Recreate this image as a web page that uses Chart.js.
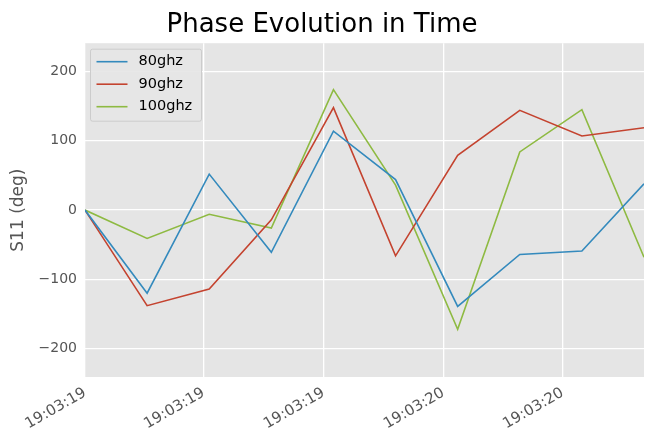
<!DOCTYPE html>
<html lang="en">
<head>
  <meta charset="UTF-8">
  <title>Phase Evolution in Time</title>
  <script src="https://cdn.jsdelivr.net/npm/chart.js"></script>
  <style>
    body {
      margin: 0;
      background: #fff;
    }
    .chart-box {
      width: 657px;
      height: 442px;
    }
  </style>
</head>
<body>
  <div class="chart-box"><canvas id="phaseChart"></canvas></div>

  <script>
    // sample index along the time axis
    const samples = [0, 1, 2, 3, 4, 5, 6, 7, 8, 9];
    const phase80 = [0, -120, 52, -61, 114, 44, -139, -64, -59, 38];
    const phase90 = [0, -138, -114, -14, 148, -66, 79, 144, 107, 119];
    const phase100 = [0, -41, -6, -26, 174, 36, -172, 84, 145, -68];

    const xTickPositions = [0, 1.91, 3.84, 5.77, 7.69];
    const xTickLabels = ['19:03:19', '19:03:19', '19:03:19', '19:03:20', '19:03:20'];
    const yTicks = [-200, -100, 0, 100, 200];

    const seriesNames = ['80ghz', '90ghz', '100ghz'];
    const seriesColors = ['#348ABD', '#C4432F', '#8EBA42'];
    const seriesValues = [phase80, phase90, phase100];

    const FONT = "'DejaVu Sans', sans-serif";

    // matplotlib-like legend drawn inside the axes, top left
    const insideLegend = {
      id: 'insideLegend',
      afterDatasetsDraw(chart) {
        const ctx = chart.ctx;
        const area = chart.chartArea;
        const x0 = area.left + 5.5, y0 = area.top + 6;
        ctx.save();
        ctx.fillStyle = 'rgba(229,229,229,0.9)';
        ctx.strokeStyle = '#cccccc';
        ctx.lineWidth = 1;
        ctx.beginPath();
        ctx.roundRect(x0, y0, 111, 72, 2);
        ctx.fill();
        ctx.stroke();
        ctx.font = '14.5px ' + FONT;
        ctx.textBaseline = 'middle';
        ctx.fillStyle = '#000';
        chart.data.datasets.forEach((ds, i) => {
          const y = y0 + 12.5 + i * 22.5;
          ctx.strokeStyle = ds.borderColor;
          ctx.lineWidth = 1.6;
          ctx.beginPath();
          ctx.moveTo(x0 + 6, y);
          ctx.lineTo(x0 + 37, y);
          ctx.stroke();
          ctx.fillText(ds.label, x0 + 48, y);
        });
        ctx.restore();
      }
    };

    const phaseChart = new Chart(document.getElementById('phaseChart').getContext('2d'), {
      type: 'line',
      data: {
        datasets: seriesNames.map((name, i) => ({
          label: name,
          data: samples.map((s, j) => ({ x: s, y: seriesValues[i][j] })),
          borderColor: seriesColors[i],
          backgroundColor: seriesColors[i],
          borderWidth: 1.6,
          pointRadius: 0,
          tension: 0
        }))
      },
      options: {
        responsive: true,
        maintainAspectRatio: false,
        animation: false,
        layout: { padding: { left: 0, right: 13, top: 0, bottom: 0 } },
        plugins: {
          legend: { display: false },
          tooltip: { enabled: false },
          title: {
            display: true,
            text: 'Phase Evolution in Time',
            color: '#000',
            font: { family: FONT, size: 26, weight: 'normal' },
            padding: { top: 10, bottom: 2 }
          }
        },
        scales: {
          x: {
            type: 'linear',
            min: 0,
            max: 9,
            afterBuildTicks: scale => {
              scale.ticks = xTickPositions.map(v => ({ value: v }));
            },
            afterFit: scale => { scale.height = 65; },
            ticks: {
              color: '#555555',
              font: { family: FONT, size: 15 },
              minRotation: 30,
              maxRotation: 30,
              padding: 7,
              callback: (v, idx) => xTickLabels[idx]
            },
            grid: { color: '#ffffff', lineWidth: 1.3, drawTicks: false },
            border: { display: false }
          },
          y: {
            min: -241,
            max: 241,
            afterBuildTicks: scale => {
              scale.ticks = yTicks.map(v => ({ value: v }));
            },
            afterFit: scale => { scale.width = 85; },
            ticks: {
              color: '#555555',
              font: { family: FONT, size: 14 },
              padding: 8,
              callback: v => (v < 0 ? '\u2212' + Math.abs(v) : String(v))
            },
            title: {
              display: true,
              text: 'S11 (deg)',
              color: '#555555',
              font: { family: FONT, size: 17 },
              padding: { top: 8, bottom: 0 }
            },
            grid: { color: '#ffffff', lineWidth: 1.3, drawTicks: false },
            border: { display: false }
          }
        }
      },
      plugins: [
        {
          id: 'axesBackground',
          beforeDraw(chart) {
            const { ctx, chartArea: a } = chart;
            ctx.save();
            ctx.fillStyle = '#E5E5E5';
            ctx.fillRect(a.left, a.top, a.right - a.left, a.bottom - a.top);
            ctx.restore();
          }
        },
        insideLegend
      ]
    });
  </script>
</body>
</html>
